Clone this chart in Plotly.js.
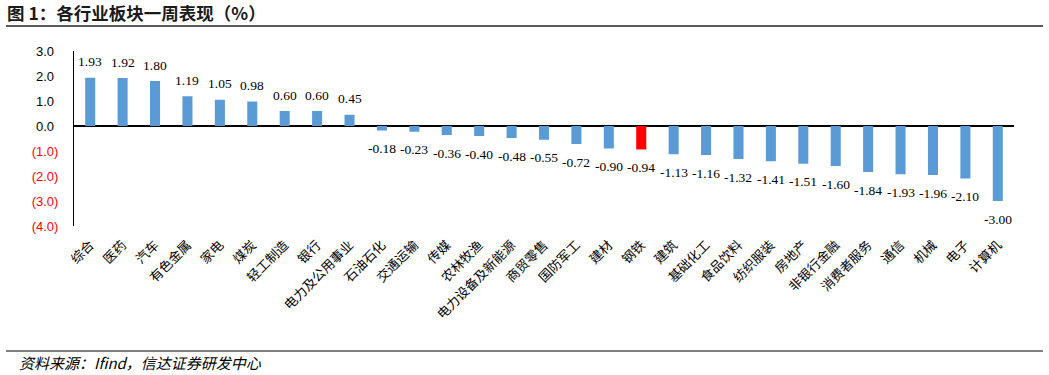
<!DOCTYPE html>
<html>
<head>
<meta charset="utf-8">
<script src="https://cdn.plot.ly/plotly-3.0.1.min.js"></script>
<style>html,body{margin:0;padding:0;background:#fff;}#chart{width:1049px;height:375px;}</style>
</head>
<body>
<div id="chart"></div>
<script>
const categories = ["综合","医药","汽车","有色金属","家电","煤炭","轻工制造","银行","电力及公用事业","石油石化","交通运输","传媒","农林牧渔","电力设备及新能源","商贸零售","国防军工","建材","钢铁","建筑","基础化工","食品饮料","纺织服装","房地产","非银行金融","消费者服务","通信","机械","电子","计算机"];
const values = [1.93,1.92,1.80,1.19,1.05,0.98,0.60,0.60,0.45,-0.18,-0.23,-0.36,-0.40,-0.48,-0.55,-0.72,-0.90,-0.94,-1.13,-1.16,-1.32,-1.41,-1.51,-1.60,-1.84,-1.93,-1.96,-2.10,-3.00];
const highlight = "钢铁";
const yTickVals = [-4,-3,-2,-1,0,1,2,3];
const yTickText = ["(4.0)","(3.0)","(2.0)","(1.0)","0.0","1.0","2.0","3.0"];

const colors = categories.map(c => c === highlight ? "#FF0000" : "#5B9BD5");
const tickText = yTickText.map(t => t.startsWith("(") ? '<span style="color:#FF0000">' + t + '</span>' : t + '<span style="color:rgba(0,0,0,0)">)</span>');

// plot area pixel geometry
const W = 1049, H = 375, L = 74, R = 35, T = 51, B = 149;
const pw = W - L - R, ph = H - T - B;
const px = x => (x - L) / pw;
const py = y => (H - B - y) / ph;

const trace = {
  type: "bar",
  x: categories,
  y: values,
  marker: {color: colors},
  width: 0.31,
  hoverinfo: "x+y"
};

const valueLabels = categories.map((c, i) => ({
  x: c, y: values[i], xref: "x", yref: "y",
  text: values[i].toFixed(2),
  showarrow: false,
  xanchor: "center", yanchor: "middle",
  yshift: values[i] >= 0 ? 16 : -18,
  font: {family: "Liberation Serif, Times New Roman, serif", size: 13.5, color: "#000"}
}));

const layout = {
  width: W, height: H,
  margin: {l: L, r: R, t: T, b: B, pad: 0},
  paper_bgcolor: "#fff", plot_bgcolor: "#fff",
  showlegend: false,
  title: {
    text: "<b>图 1：各行业板块一周表现（%）</b>",
    x: 7 / W, xanchor: "left", xref: "container",
    y: 1 - 14 / H, yanchor: "middle", yref: "container",
    font: {family: "Noto Sans CJK SC, sans-serif", size: 17.5, color: "#1a1a1a"}
  },
  xaxis: {
    type: "category",
    range: [-0.5, categories.length - 0.5],
    tickangle: -45,
    showline: false, showgrid: false, zeroline: false,
    ticks: "",
    ticklabelstandoff: 8,
    tickfont: {family: "Noto Sans CJK SC, sans-serif", size: 13, color: "#000"}
  },
  yaxis: {
    range: [-4, 3],
    tickvals: yTickVals,
    ticktext: tickText,
    showline: true, linecolor: "#000", linewidth: 1,
    showgrid: false,
    zeroline: true, zerolinecolor: "#000", zerolinewidth: 1.2,
    ticks: "",
    ticklabelstandoff: 12,
    tickfont: {family: "Liberation Sans, Arial, sans-serif", size: 13, color: "#000"}
  },
  shapes: [
    {type: "line", xref: "paper", yref: "paper", x0: px(6), x1: px(1043), y0: py(26), y1: py(26), line: {color: "#222", width: 1.5}},
    {type: "line", xref: "paper", yref: "paper", x0: px(6), x1: px(1043), y0: py(351), y1: py(351), line: {color: "#808080", width: 2}}
  ],
  annotations: valueLabels.concat([
    {xref: "paper", yref: "paper", x: px(17), y: py(362), xanchor: "left", yanchor: "middle", showarrow: false,
     text: "<i>资料来源：Ifind，信达证券研发中心</i>",
     font: {family: "Noto Sans CJK SC, sans-serif", size: 15, color: "#000"}}
  ])
};

Plotly.newPlot("chart", [trace], layout, {displayModeBar: false, staticPlot: true});
</script>
</body>
</html>
